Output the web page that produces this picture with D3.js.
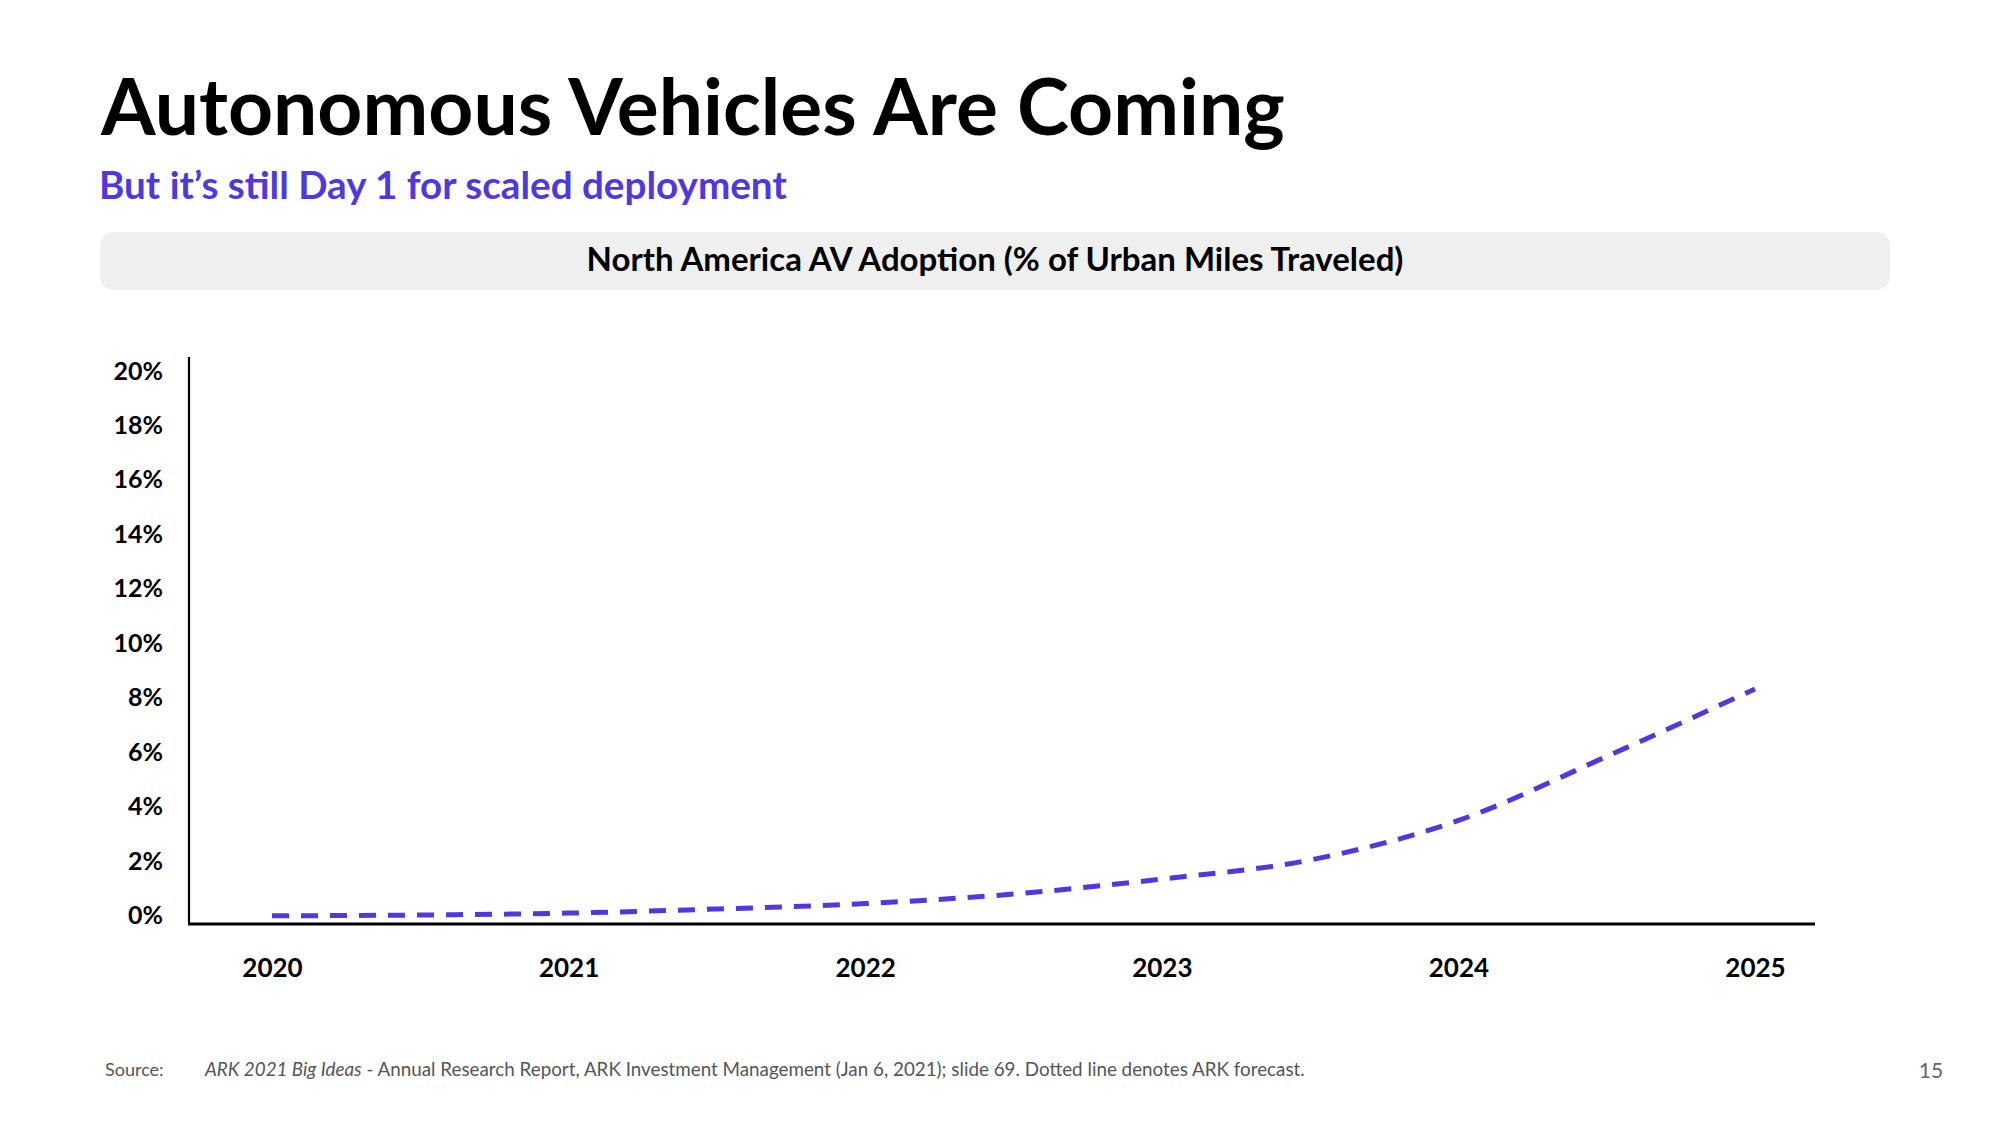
<!DOCTYPE html>
<html>
<head>
<meta charset="utf-8">
<script src="https://cdn.jsdelivr.net/npm/d3@7"></script>
<style>
  html, body { margin: 0; padding: 0; background: #ffffff; }
  svg { display: block; }
  text { font-family: Lato, "Noto Sans", sans-serif; }
</style>
</head>
<body>
<svg id="chart" width="2000" height="1125"></svg>
<script>
// ---- data ----
const years = [2020, 2020.5, 2021, 2021.5, 2022, 2022.5, 2023, 2023.5, 2024, 2024.5, 2025];
const adoption = [0.0, 0.03, 0.1, 0.25, 0.45, 0.8, 1.35, 2.05, 3.5, 5.85, 8.33];
const xTickYears = [2020, 2021, 2022, 2023, 2024, 2025];
const yTickValues = [0, 2, 4, 6, 8, 10, 12, 14, 16, 18, 20];
const titleText = "Autonomous Vehicles Are Coming";
const subtitleText = "But it\u2019s still Day 1 for scaled deployment";
const chartTitleText = "North America AV Adoption (% of Urban Miles Traveled)";
const pageNumber = "15";

const purple = "#4f38e0";
const svg = d3.select("#chart");

function fitWidth(sel, target) {
  const w = sel.node().getComputedTextLength();
  const fs = parseFloat(sel.attr("font-size"));
  sel.attr("font-size", fs * target / w);
}

// Title
const t = svg.append("text").attr("x", 101).attr("y", 135)
  .attr("font-size", 78).attr("font-weight", 700).attr("fill", "#000")
  .text(titleText);
fitWidth(t, 1184);

const st = svg.append("text").attr("x", 99).attr("y", 199)
  .attr("font-size", 38).attr("font-weight", 700).attr("fill", purple)
  .text(subtitleText);
fitWidth(st, 688);

// header bar
svg.append("rect").attr("x", 100).attr("y", 232).attr("width", 1790).attr("height", 58)
  .attr("rx", 14).attr("fill", "#efefef");
const ct = svg.append("text").attr("x", 995).attr("y", 271).attr("text-anchor", "middle")
  .attr("font-size", 30).attr("font-weight", 700).attr("fill", "#000")
  .text(chartTitleText);
fitWidth(ct, 817);

// scales
const plotLeft = 189, plotRight = 1815, plotTop = 357, plotBottom = 924;
const x = d3.scaleLinear().domain([2020, 2025]).range([272, 1755]);
const y = d3.scaleLinear().domain([-0.3, 20]).range([plotBottom, 371]);

// y axis
const yAxis = svg.append("g").attr("transform", `translate(${plotLeft},0)`)
  .call(d3.axisLeft(y).tickValues(yTickValues).tickSize(0).tickPadding(26).tickFormat(d => d + "%"));
yAxis.select(".domain").remove();
yAxis.selectAll("text").attr("font-family", "Lato, sans-serif").attr("font-size", 25)
  .attr("font-weight", 700).attr("fill", "#000");

// x axis
const xAxis = svg.append("g").attr("transform", `translate(0,${plotBottom})`)
  .call(d3.axisBottom(x).tickValues(xTickYears).tickSize(0).tickPadding(35).tickFormat(d3.format("d")));
xAxis.select(".domain").remove();
xAxis.selectAll("text").attr("font-family", "Lato, sans-serif").attr("font-size", 26)
  .attr("font-weight", 700).attr("fill", "#000");

// axis lines
svg.append("line").attr("x1", plotLeft).attr("x2", plotLeft).attr("y1", plotTop).attr("y2", plotBottom)
  .attr("stroke", "#000").attr("stroke-width", 2.2);
svg.append("line").attr("x1", plotLeft - 1).attr("x2", plotRight).attr("y1", plotBottom).attr("y2", plotBottom)
  .attr("stroke", "#000").attr("stroke-width", 3);

// line
const pts = years.map((yr, i) => [yr, adoption[i]]);
const line = d3.line().x(d => x(d[0])).y(d => y(d[1])).curve(d3.curveMonotoneX);
svg.append("path").datum(pts).attr("d", line)
  .attr("fill", "none").attr("stroke", purple).attr("stroke-width", 5)
  .attr("stroke-dasharray", "17,12");

// source
svg.append("text").attr("x", 105).attr("y", 1076).attr("font-size", 18).attr("fill", "#555")
  .text("Source:");
const src = svg.append("text").attr("x", 205).attr("y", 1076).attr("font-size", 18).attr("fill", "#555");
src.append("tspan").attr("font-style", "italic").text("ARK 2021 Big Ideas");
src.append("tspan").text(" - Annual Research Report, ARK Investment Management (Jan 6, 2021); slide 69. Dotted line denotes ARK forecast.");
fitWidth(src, 1100);
svg.append("text").attr("x", 1931).attr("y", 1078).attr("text-anchor", "middle")
  .attr("font-size", 21).attr("fill", "#666").text(pageNumber);
</script>
</body>
</html>
